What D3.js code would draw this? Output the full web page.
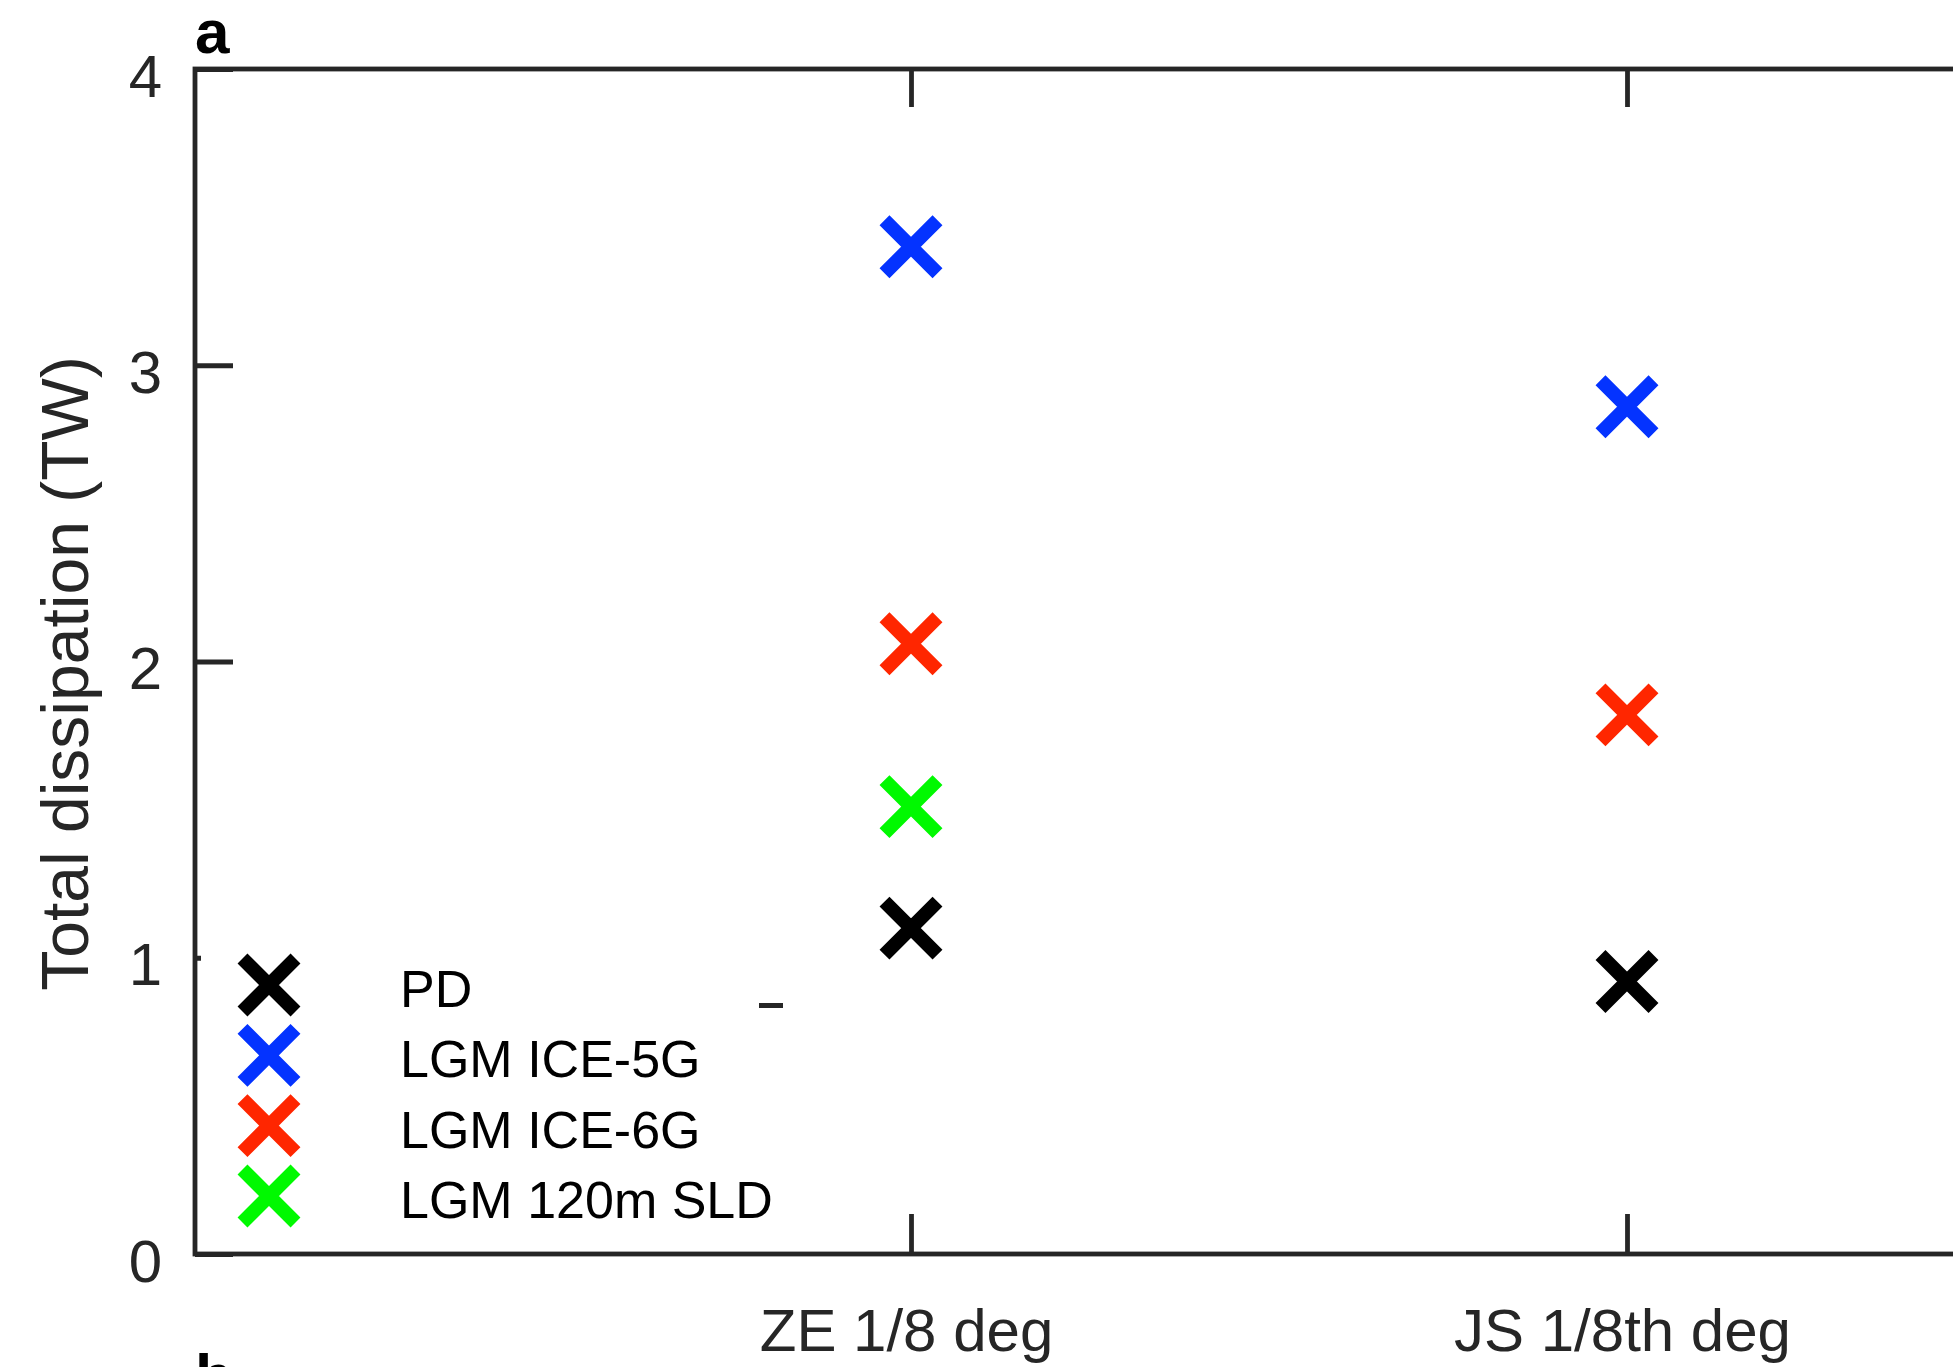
<!DOCTYPE html>
<html>
<head>
<meta charset="utf-8">
<script src="https://cdn.jsdelivr.net/npm/d3@7"></script>
<style>
  html, body { margin: 0; padding: 0; background: #fff; overflow: hidden; }
  svg { display: block; font-family: "Liberation Sans", Arial, Helvetica, sans-serif; }
</style>
</head>
<body>
<svg id="chart" width="1953" height="1367"></svg>
<script>
// Model configurations on the x axis
const categories = ["ZE 1/8 deg", "JS 1/8th deg"];

// Total tidal dissipation (TW) per experiment; null = not run
const seriesNames = ["PD", "LGM ICE-5G", "LGM ICE-6G", "LGM 120m SLD"];
const pdValues     = [1.10, 0.92];
const ice5gValues  = [3.40, 2.86];
const ice6gValues  = [2.06, 1.82];
const sld120Values = [1.51, null];
const seriesColors = ["#000000", "#0433ff", "#ff2600", "#00f900"];

const yTicks = [0, 1, 2, 3, 4];
const yLabel = "Total dissipation (TW)";
const panelLabel = "a";
const nextPanelLabel = "b";

const seriesValues = [pdValues, ice5gValues, ice6gValues, sld120Values];

const svg = d3.select("#chart");
const axisColor = "#262626";
const axisWidth = 4.8;
const tickLen = 38;

// Axes box: the right part of the box runs past the page edge
const boxLeft = 195, boxTop = 69, boxBottom = 1254, boxRight = 2343;

const x = d3.scalePoint().domain(categories).range([boxLeft, boxRight]).padding(1);
const y = d3.scaleLinear().domain([0, 4]).range([boxBottom, boxTop]);

// Y ticks (inward) and labels
const yAxis = svg.append("g")
  .attr("transform", `translate(${boxLeft},0)`)
  .call(d3.axisLeft(y).tickValues(yTicks).tickFormat(d3.format("d"))
        .tickSizeInner(-tickLen).tickSizeOuter(0).tickPadding(33));
yAxis.select(".domain").remove();
yAxis.selectAll(".tick line").attr("stroke", axisColor).attr("stroke-width", axisWidth);
yAxis.selectAll(".tick text")
  .attr("fill", axisColor).attr("font-size", 60)
  .attr("dy", null).attr("y", 27);

// X ticks (inward) and category labels
const xAxis = svg.append("g")
  .attr("transform", `translate(0,${boxBottom})`)
  .call(d3.axisBottom(x).tickSizeInner(-(tickLen + 2)).tickSizeOuter(0));
xAxis.select(".domain").remove();
xAxis.selectAll(".tick line").attr("stroke", axisColor).attr("stroke-width", axisWidth);
xAxis.selectAll(".tick text")
  .attr("fill", axisColor).attr("font-size", 60)
  .attr("dy", null).attr("y", 97).attr("dx", -5);

// Mirrored ticks on the top edge
const xTop = svg.append("g")
  .attr("transform", `translate(0,${boxTop})`)
  .call(d3.axisTop(x).tickSizeInner(-tickLen).tickSizeOuter(0).tickFormat(""));
xTop.select(".domain").remove();
xTop.selectAll(".tick line").attr("stroke", axisColor).attr("stroke-width", axisWidth);

// Cross marker path centred on (0,0)
const half = 26.5;
const markerStroke = 14;
const crossPath = `M${-half},${-half}L${half},${half}M${-half},${half}L${half},${-half}`;

// Data markers
seriesValues.forEach((vals, si) => {
  svg.append("g").selectAll("path")
    .data(categories.map((c, i) => ({ c, v: vals[i] })).filter(d => d.v != null))
    .join("path")
    .attr("transform", d => `translate(${x(d.c)},${y(d.v)})`)
    .attr("d", crossPath)
    .attr("fill", "none")
    .attr("stroke", seriesColors[si])
    .attr("stroke-width", markerStroke);
});

// Legend with white background
const legend = svg.append("g");
legend.append("rect")
  .attr("x", 201).attr("y", 945).attr("width", 600).attr("height", 300)
  .attr("fill", "#fff");
const rowY = d3.scaleLinear().domain([0, seriesNames.length - 1]).range([985, 1196]);
seriesNames.forEach((name, i) => {
  legend.append("path")
    .attr("transform", `translate(269,${rowY(i)})`)
    .attr("d", crossPath)
    .attr("fill", "none")
    .attr("stroke", seriesColors[i])
    .attr("stroke-width", markerStroke);
  legend.append("text")
    .attr("x", 400).attr("y", rowY(i) + 22)
    .attr("font-size", 52)
    .attr("fill", "#000")
    .text(name);
});
legend.append("line")
  .attr("x1", 759).attr("x2", 783).attr("y1", 1005.5).attr("y2", 1005.5)
  .attr("stroke", axisColor).attr("stroke-width", 5);

// Axes box
svg.append("rect")
  .attr("x", boxLeft).attr("y", boxTop)
  .attr("width", boxRight - boxLeft).attr("height", boxBottom - boxTop)
  .attr("fill", "none")
  .attr("stroke", axisColor).attr("stroke-width", axisWidth);

// Y axis title
svg.append("text")
  .attr("transform", `translate(88,${(boxTop + boxBottom) / 2 + 12}) rotate(-90)`)
  .attr("text-anchor", "middle")
  .attr("font-size", 66)
  .attr("fill", axisColor)
  .text(yLabel);

// Panel labels
svg.append("text")
  .attr("x", 195).attr("y", 53)
  .attr("font-size", 62).attr("font-weight", "bold")
  .attr("fill", "#000")
  .text(panelLabel);
svg.append("text")
  .attr("x", 195).attr("y", 1397)
  .attr("font-size", 62).attr("font-weight", "bold")
  .attr("fill", "#000")
  .text(nextPanelLabel);
</script>
</body>
</html>
